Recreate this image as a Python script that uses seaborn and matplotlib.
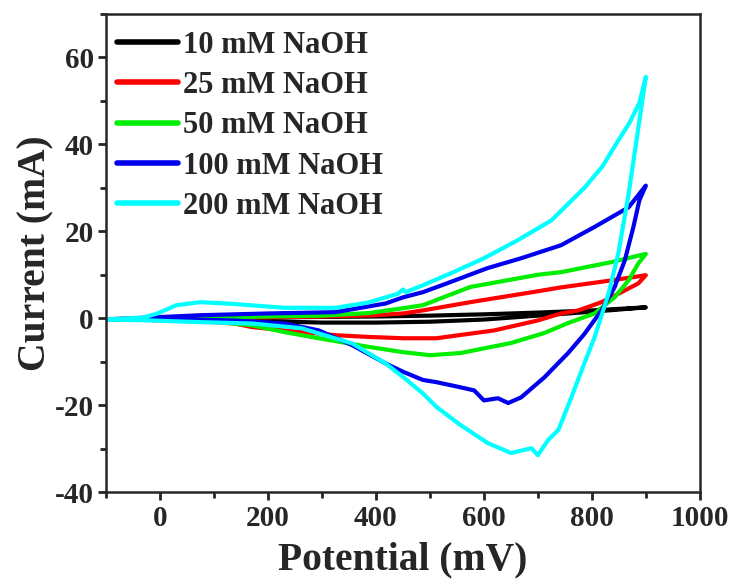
import numpy as np
import pandas as pd
import seaborn as sns
import matplotlib.pyplot as plt
from matplotlib.ticker import MultipleLocator

# ------------------------------------------------------------
# CV loops (forward scan then reverse scan)
# ------------------------------------------------------------
labels = ["10 mM NaOH", "25 mM NaOH", "50 mM NaOH", "100 mM NaOH", "200 mM NaOH"]
colors = ["#000000", "#ff0000", "#00ee00", "#0000ee", "#00ffff"]

# 10 mM
e_10 = [-100, 0, 100, 200, 300, 400, 500, 600, 700, 800, 900,
        800, 700, 600, 500, 400, 300, 200, 100, 0, -100]
i_10 = [-0.2, 0, 0.1, 0.2, 0.3, 0.4, 0.6, 0.9, 1.3, 1.8, 2.5,
        1.5, 0.6, -0.3, -0.8, -1.0, -1.0, -0.7, -0.4, -0.3, -0.2]

# 25 mM
e_25 = [-100, 0, 100, 200, 300, 400, 450, 487, 575, 700, 743, 836, 900,
        886, 855, 818, 775, 743, 700, 619, 512, 450, 387, 325, 231, 169, 137, 50, -100]
i_25 = [-0.3, 0, 0.1, 0.2, 0.4, 0.7, 1.1, 1.8, 3.7, 6.2, 7.1, 8.7, 9.9,
        8.0, 6.0, 3.7, 1.8, 1.1, -0.5, -2.8, -4.6, -4.6, -4.3, -3.9, -2.8, -2.0, -1.2, -0.5, -0.3]

# 50 mM
e_50 = [-100, 0, 100, 200, 300, 387, 450, 487, 575, 700, 743, 836, 900,
        886, 868, 842, 805, 756, 712, 650, 557, 500, 450, 387, 294, 231, 169, 100, 0, -100]
i_50 = [-0.3, 0, 0.2, 0.4, 0.6, 1.2, 2.3, 3.0, 7.2, 10.0, 10.6, 12.9, 14.8,
        12.6, 8.7, 4.8, 1.1, -1.1, -3.4, -5.7, -8.0, -8.5, -7.8, -6.6, -4.6, -3.2, -1.6, -0.8, -0.4, -0.3]

# 100 mM
e_100 = [-100, -12, 75, 200, 325, 418, 450, 487, 531, 606, 669, 743, 805, 868, 900,
         888, 877, 861, 842, 818, 785, 756, 712, 669, 645, 626, 600, 582, 557, 512,
         487, 450, 418, 356, 294, 231, 137, 50, -100]
i_100 = [-0.3, 0.2, 0.7, 1.1, 1.4, 3.4, 4.8, 6.0, 8.0, 11.5, 13.8, 16.8, 21.0, 25.5, 30.5,
         27.1, 21.0, 13.3, 7.1, 1.8, -3.8, -8.0, -13.6, -18.2, -19.5, -18.4, -18.9, -16.6, -15.9, -14.7,
         -14.2, -12.3, -10.4, -6.2, -2.8, -1.2, -0.5, -0.3, -0.3]

# 200 mM
e_200 = [-100, -30, -5, 30, 75, 135, 230, 325, 385, 440, 450, 455, 487, 538, 600, 662,
         725, 787, 820, 849, 870, 888, 900,
         868, 849, 831, 805, 786, 762, 738, 719, 700, 688, 650, 607, 557, 512,
         487, 450, 418, 356, 262, 169, 75, -20, -100]
i_200 = [-0.3, 0.2, 1.1, 3.0, 3.7, 3.3, 2.4, 2.4, 3.6, 5.6, 6.6, 6.0, 7.6, 10.3, 13.8, 17.9,
         22.5, 30.1, 35.0, 40.9, 45.0, 49.5, 55.5,
         28.5, 14.9, 5.7, -4.4, -10.4, -18.2, -25.7, -28.0, -31.5, -29.9, -31.0, -28.7, -24.6, -20.4,
         -17.3, -13.5, -10.4, -5.8, -2.3, -1.2, -0.9, -0.5, -0.3]

potentials = [e_10, e_25, e_50, e_100, e_200]
currents = [i_10, i_25, i_50, i_100, i_200]

frames = []
for lab, e, i in zip(labels, potentials, currents):
    frames.append(pd.DataFrame({"Potential": e, "Current": i, "conc": lab}))
df = pd.concat(frames, ignore_index=True)

# ------------------------------------------------------------
# Style
# ------------------------------------------------------------
sns.set_style("ticks")
plt.rcParams["font.family"] = ["Liberation Serif", "DejaVu Serif"]
plt.rcParams["font.weight"] = "bold"
plt.rcParams["axes.labelweight"] = "bold"
plt.rcParams["axes.unicode_minus"] = False

fig = plt.figure(figsize=(7.32, 5.79), dpi=100)
ax = fig.add_axes([0.145, 0.150, 0.811, 0.826])

sns.lineplot(data=df, x="Potential", y="Current", hue="conc", hue_order=labels,
             palette=dict(zip(labels, colors)), sort=False, estimator=None,
             linewidth=3, ax=ax)

ax.set_xlim(-100, 1000)
ax.set_ylim(-40, 70)
ax.xaxis.set_major_locator(MultipleLocator(200))
ax.xaxis.set_minor_locator(MultipleLocator(100))
ax.yaxis.set_major_locator(MultipleLocator(20))
ax.yaxis.set_minor_locator(MultipleLocator(10))
ax.tick_params(which="major", direction="out", length=6, width=2, labelsize=21, pad=3)
ax.tick_params(which="minor", direction="out", length=4, width=2)
for lbl in ax.get_xticklabels() + ax.get_yticklabels():
    lbl.set_fontweight("bold")
for sp in ax.spines.values():
    sp.set_linewidth(1.8)

ax.set_xlabel("Potential (mV)", fontsize=28.5, fontweight="bold")
ax.set_ylabel("Current (mA)", fontsize=28.5, fontweight="bold")
ax.xaxis.set_label_coords(0.5, -0.104)
ax.yaxis.set_label_coords(-0.087, 0.5)
ax.xaxis.label.set_va("top")

leg = ax.legend(loc="upper left", bbox_to_anchor=(-0.01, 1.0), frameon=False,
                handlelength=2.0, handletextpad=0.15, labelspacing=0.37,
                borderaxespad=0.15, prop={"weight": "bold", "size": 22})
for h in leg.get_lines():
    h.set_linewidth(4)

fig.savefig("out.png", dpi=100)
